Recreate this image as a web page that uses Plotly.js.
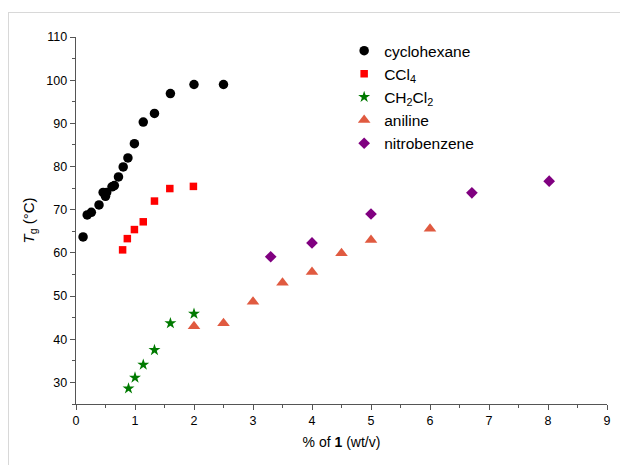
<!DOCTYPE html>
<html>
<head>
<meta charset="utf-8">
<script src="https://cdn.plot.ly/plotly-3.0.1.min.js"></script>
<style>
html,body{margin:0;padding:0;background:#fff;}
#wrap{position:relative;width:620px;height:465px;}
#frame{position:absolute;left:8px;top:12px;width:620px;height:460px;border-top:1px solid #d8d8d8;border-left:1px solid #d8d8d8;pointer-events:none;}
#chart{position:absolute;left:0;top:0;width:620px;height:465px;}
</style>
</head>
<body>
<div id="wrap"><div id="chart"></div><div id="frame"></div></div>
<script>
// cyclohexane
const cycX = [0.12, 0.19, 0.26, 0.39, 0.46, 0.50, 0.52, 0.61, 0.65, 0.72, 0.80, 0.88, 0.99, 1.14, 1.33, 1.60, 2.00, 2.50];
const cycY = [63.7, 68.8, 69.4, 71.1, 74.0, 73.1, 74.0, 75.3, 75.6, 77.6, 79.9, 82.0, 85.3, 90.3, 92.3, 96.9, 99.0, 99.0];
// CCl4
const cclX = [0.79, 0.87, 0.99, 1.14, 1.33, 1.59, 1.99];
const cclY = [60.7, 63.3, 65.4, 67.2, 72.0, 74.9, 75.4];
// CH2Cl2
const dcmX = [0.89, 1.00, 1.14, 1.33, 1.60, 2.00];
const dcmY = [28.6, 31.1, 34.1, 37.5, 43.7, 45.9];
// aniline
const aniX = [2.0, 2.5, 3.0, 3.5, 4.0, 4.5, 5.0, 6.0];
const aniY = [43.0, 43.7, 48.7, 53.1, 55.6, 59.9, 63.0, 65.6];
// nitrobenzene
const nitX = [3.30, 4.00, 5.00, 6.71, 8.02];
const nitY = [59.1, 62.3, 69.0, 73.9, 76.6];

const traces = [
  {x: cycX, y: cycY, name: 'cyclohexane', mode: 'markers', type: 'scatter',
   marker: {symbol: 'circle', size: 9.5, color: '#000000'}},
  {x: cclX, y: cclY, name: 'CCl<sub>4</sub>', mode: 'markers', type: 'scatter',
   marker: {symbol: 'square', size: 7.5, color: '#ff0000'}},
  {x: dcmX, y: dcmY, name: 'CH<sub>2</sub>Cl<sub>2</sub>', mode: 'markers', type: 'scatter',
   marker: {symbol: 'star', size: 9, color: '#007a00'}},
  {x: aniX, y: aniY, name: 'aniline', mode: 'markers', type: 'scatter',
   marker: {symbol: 'triangle-up', size: 11, color: '#e05a40'}},
  {x: nitX, y: nitY, name: 'nitrobenzene', mode: 'markers', type: 'scatter',
   marker: {symbol: 'diamond', size: 9, color: '#800080'}}
];

const axisCommon = {
  showline: true, linecolor: '#555555', linewidth: 1.3,
  ticks: 'outside', ticklen: 5, tickwidth: 1, tickcolor: '#555555',
  showgrid: false, zeroline: false,
  tickfont: {family: 'Arial, Liberation Sans, sans-serif', size: 12.5, color: '#000'}
};

const layout = {
  width: 620, height: 465,
  margin: {l: 76, r: 13, t: 37, b: 61},
  paper_bgcolor: '#ffffff', plot_bgcolor: '#ffffff',
  font: {family: 'Arial, Liberation Sans, sans-serif', size: 14, color: '#000'},
  showlegend: true,
  legend: {x: 0.505, y: 1.008, xanchor: 'left', yanchor: 'top', bgcolor: 'rgba(0,0,0,0)',
           font: {size: 15.5, family: 'Arial, Liberation Sans, sans-serif'}, itemwidth: 30, tracegroupgap: 0},
  xaxis: Object.assign({}, axisCommon, {
    range: [0, 9], dtick: 1, tick0: 0,
    minor: {ticks: 'outside', ticklen: 3, dtick: 0.5, tickcolor: '#555555'},
    title: {text: '% of <b>1</b> (wt/v)', font: {size: 14}, standoff: 10}
  }),
  yaxis: Object.assign({}, axisCommon, {
    range: [25, 110], dtick: 10, tick0: 30,
    minor: {ticks: 'outside', ticklen: 3, dtick: 5, tickcolor: '#555555'},
    title: {text: '<i>T</i><sub>g</sub> (°C)', font: {size: 15}, standoff: 8}
  })
};

Plotly.newPlot('chart', traces, layout, {displayModeBar: false, staticPlot: true});
</script>
</body>
</html>
